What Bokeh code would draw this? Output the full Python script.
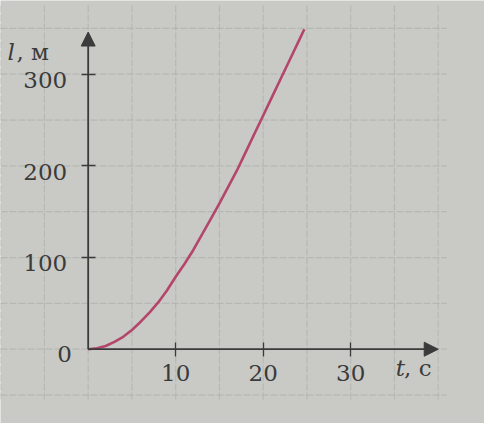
from bokeh.plotting import figure
from bokeh.models import Range1d, FixedTicker, Arrow, NormalHead, ColumnDataSource
from bokeh.core.properties import value
from bokeh.embed import file_html
from bokeh.resources import INLINE

# ---- data ----
t_values = [0, 1, 2, 3, 4, 5, 6, 7, 8, 9, 10, 11, 12, 13, 14, 15, 16, 17,
            18, 19, 20, 21, 22, 23, 24, 24.7]
l_values = [0, 1, 3.5, 8, 13.5, 21, 30, 40, 51, 64, 79, 93, 108, 125, 142,
            159, 177, 195, 215, 235, 255, 275, 295, 315, 335, 349]

x_ticks = [10, 20, 30]
y_ticks = [100, 200, 300]
y_tick_labels = ["100", "200", "300"]
origin_label = "0"
x_name = ("t", ", с")
y_name = ("l", ", м")
grid_t = [-10, -5, 0, 5, 10, 15, 20, 25, 30, 35, 40]
grid_l = [-50, 0, 50, 100, 150, 200, 250, 300, 350]
x_arrow_end = 40
y_arrow_end = 346

FONT = "DejaVu Serif"
INK = "#3b3b3b"
PAPER = "#c9cac6"
GRID = "#aeb0ab"
CURVE = "#b3466a"
FS = "23px"

W, H = 484, 423
p = figure(width=W, height=H, output_backend="svg", toolbar_location=None,
           x_range=Range1d(-10.02, 45.29), y_range=Range1d(-81.05, 380.4),
           min_border=0, min_border_left=0, min_border_right=0,
           min_border_top=0, min_border_bottom=0)
p.background_fill_color = PAPER
p.border_fill_color = PAPER
p.outline_line_color = None
p.xgrid.visible = False
p.ygrid.visible = False

# graph-paper grid
vs = ColumnDataSource(dict(x0=grid_t, y0=[-55] * len(grid_t),
                           x1=grid_t, y1=[375] * len(grid_t)))
hs = ColumnDataSource(dict(x0=[-10.02] * len(grid_l), y0=grid_l,
                           x1=[41] * len(grid_l), y1=grid_l))
for src in (vs, hs):
    p.segment(x0="x0", y0="y0", x1="x1", y1="y1", source=src,
              line_color=GRID, line_width=1.2, line_alpha=0.7,
              line_dash="7 2")

# axes through the origin
for ax in (p.xaxis[0], p.yaxis[0]):
    ax.fixed_location = 0
    ax.axis_line_color = None
    ax.major_tick_line_color = INK
    ax.major_tick_line_width = 1.3
    ax.major_tick_in = 7
    ax.major_tick_out = 7
    ax.minor_tick_line_color = None
    ax.major_label_text_font = FONT
    ax.major_label_text_font_size = FS
    ax.major_label_text_color = INK
p.xaxis[0].ticker = FixedTicker(ticks=x_ticks)
p.yaxis[0].ticker = FixedTicker(ticks=y_ticks)
p.xaxis[0].major_label_standoff = 9
p.yaxis[0].major_label_overrides = {v: "" for v in y_ticks}

p.add_layout(Arrow(x_start=0, y_start=0, x_end=x_arrow_end, y_end=0,
                   line_color=INK, line_width=1.8,
                   end=NormalHead(size=14, fill_color=INK, line_color=INK)))
p.add_layout(Arrow(x_start=0, y_start=0, x_end=0, y_end=y_arrow_end,
                   line_color=INK, line_width=1.8,
                   end=NormalHead(size=14, fill_color=INK, line_color=INK)))

# the curve
p.line(t_values, l_values, line_color=CURVE, line_width=2.6)

# y tick labels (printed slightly below their ticks in the original)
p.text(x=[-2.4] * len(y_ticks), y=[v - 6.5 for v in y_ticks], text=y_tick_labels,
       text_font=value(FONT), text_font_size=FS, text_color=INK,
       text_align="right", text_baseline="middle")

# texts
p.text(x=[-2.71], y=[-4.7], text=[origin_label], text_font=value(FONT),
       text_font_size=FS, text_color=INK, text_align="center",
       text_baseline="middle")
p.text(x=[-9.22], y=[324.5], text=[y_name[0]], text_font=value(FONT),
       text_font_style="italic", text_font_size=FS, text_color=INK,
       text_align="left", text_baseline="middle")
p.text(x=[-8.2], y=[324.5], text=[y_name[1]], text_font=value(FONT),
       text_font_size=FS, text_color=INK,
       text_align="left", text_baseline="middle")
p.text(x=[35.15], y=[-20], text=[x_name[0]], text_font=value(FONT),
       text_font_style="italic", text_font_size=FS, text_color=INK,
       text_align="left", text_baseline="middle")
p.text(x=[36.1], y=[-20], text=[x_name[1]], text_font=value(FONT),
       text_font_size=FS, text_color=INK,
       text_align="left", text_baseline="middle")

open("out.html", "w").write(file_html(p, INLINE))
